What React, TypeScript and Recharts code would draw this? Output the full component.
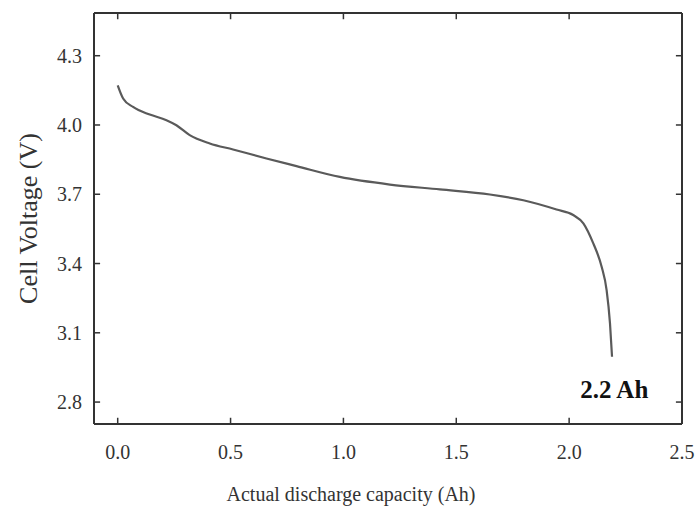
import { LineChart, Line, XAxis, YAxis, ReferenceDot, ReferenceLine } from "recharts";

const capacity = [
  0, 0.024, 0.068, 0.142, 0.216, 0.26, 0.319, 0.408, 0.511, 0.659, 0.792, 0.984,
  1.206, 1.427, 1.649, 1.797, 1.944, 2.018, 2.063, 2.107, 2.144, 2.166, 2.181, 2.19,
];
const voltage = [
  4.172, 4.115, 4.078, 4.045, 4.021, 3.999, 3.956, 3.92, 3.894, 3.855, 3.822, 3.775,
  3.742, 3.721, 3.699, 3.674, 3.634, 3.61, 3.574, 3.487, 3.386, 3.285, 3.141, 2.996,
];
const xTicks = [0, 0.5, 1.0, 1.5, 2.0, 2.5];
const yTicks = [2.8, 3.1, 3.4, 3.7, 4.0, 4.3];
const xDomain = [-0.105, 2.5];
const yDomain = [2.705, 4.485];

const data = capacity.map((c, i) => ({ c, v: voltage[i] }));

const FONT = "'Liberation Serif', 'Times New Roman', serif";
const AXIS = "#333";
// inward tick length in data units (about 6px each way)
const TICK_X = 0.027;
const TICK_Y = 0.027;

export default function App() {
  const xMarks = xTicks.filter((t) => t < xDomain[1]);
  return (
    <div style={{ position: "absolute", left: 0, top: 0, background: "#fff" }}>
      <LineChart
        width={699}
        height={506}
        data={data}
        margin={{ top: 13, right: 17, left: 0, bottom: 0 }}
        style={{ fontFamily: FONT }}
      >
        <XAxis
          dataKey="c"
          type="number"
          domain={xDomain}
          ticks={xTicks}
          tickFormatter={(v: number) => v.toFixed(1)}
          height={82}
          tickSize={0}
          tickMargin={21}
          axisLine={{ stroke: AXIS, strokeWidth: 2 }}
          tickLine={false}
          tick={{ fontSize: 20, fill: "#333", fontFamily: FONT }}
          allowDataOverflow
          label={{
            value: "Actual discharge capacity (Ah)",
            position: "insideBottom",
            offset: 5,
            dx: -37,
            style: { fontSize: 20, fill: "#333", fontFamily: FONT },
          }}
        />
        <YAxis
          type="number"
          domain={yDomain}
          ticks={yTicks}
          tickFormatter={(v: number) => v.toFixed(1)}
          width={94}
          tickSize={0}
          tickMargin={12}
          axisLine={{ stroke: AXIS, strokeWidth: 2 }}
          tickLine={false}
          tick={{ fontSize: 20, fill: "#333", fontFamily: FONT }}
          allowDataOverflow
          label={{
            value: "Cell Voltage (V)",
            angle: -90,
            position: "insideLeft",
            offset: 28,
            style: { fontSize: 26, fill: "#333", fontFamily: FONT, textAnchor: "middle" },
          }}
        />
        {/* frame: top and right edges */}
        <ReferenceLine y={yDomain[1]} stroke={AXIS} strokeWidth={2} ifOverflow="visible" />
        <ReferenceLine x={xDomain[1]} stroke={AXIS} strokeWidth={2} ifOverflow="visible" />
        {/* inward tick marks on all four sides */}
        {xMarks.map((t) => (
          <ReferenceLine
            key={`b${t}`}
            segment={[{ x: t, y: yDomain[0] }, { x: t, y: yDomain[0] + TICK_Y }]}
            stroke={AXIS}
            strokeWidth={1.5}
            ifOverflow="visible"
          />
        ))}
        {xMarks.map((t) => (
          <ReferenceLine
            key={`t${t}`}
            segment={[{ x: t, y: yDomain[1] }, { x: t, y: yDomain[1] - TICK_Y }]}
            stroke={AXIS}
            strokeWidth={1.5}
            ifOverflow="visible"
          />
        ))}
        {yTicks.map((t) => (
          <ReferenceLine
            key={`l${t}`}
            segment={[{ x: xDomain[0], y: t }, { x: xDomain[0] + TICK_X, y: t }]}
            stroke={AXIS}
            strokeWidth={1.5}
            ifOverflow="visible"
          />
        ))}
        {yTicks.map((t) => (
          <ReferenceLine
            key={`r${t}`}
            segment={[{ x: xDomain[1], y: t }, { x: xDomain[1] - TICK_X, y: t }]}
            stroke={AXIS}
            strokeWidth={1.5}
            ifOverflow="visible"
          />
        ))}
        <Line
          dataKey="v"
          type="monotone"
          stroke="#5a5a5a"
          strokeWidth={2.2}
          dot={false}
          isAnimationActive={false}
        />
        <ReferenceDot
          x={2.2}
          y={2.854}
          r={0}
          fill="none"
          stroke="none"
          label={{
            value: "2.2 Ah",
            position: "center",
            style: { fontSize: 25, fontWeight: "bold", fill: "#111", fontFamily: FONT },
          }}
        />
      </LineChart>
    </div>
  );
}
